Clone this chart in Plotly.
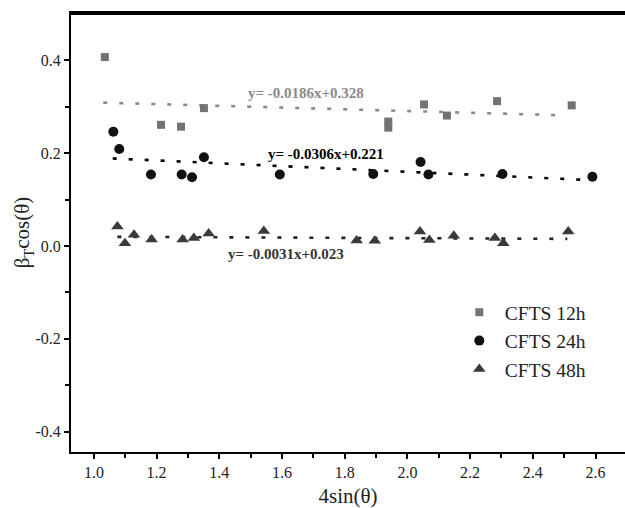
import plotly.graph_objects as go

# ---- data ----
x12 = [1.035, 1.214, 1.278, 1.351, 1.939, 1.939, 2.053, 2.126, 2.286, 2.524]
y12 = [0.407, 0.261, 0.257, 0.297, 0.268, 0.255, 0.305, 0.281, 0.312, 0.303]

x24 = [1.062, 1.081, 1.182, 1.280, 1.313, 1.351, 1.593, 1.891, 2.042, 2.067, 2.303, 2.590]
y24 = [0.246, 0.209, 0.154, 0.154, 0.148, 0.191, 0.154, 0.155, 0.181, 0.154, 0.155, 0.149]

x48 = [1.075, 1.099, 1.128, 1.184, 1.283, 1.319, 1.366, 1.542, 1.838, 1.896, 2.040, 2.070,
       2.148, 2.279, 2.306, 2.513]
y48 = [0.042, 0.006, 0.024, 0.014, 0.014, 0.017, 0.027, 0.032, 0.012, 0.011, 0.031, 0.013,
       0.022, 0.017, 0.006, 0.031]

# linear fits: slope, intercept, x-span
fit12 = (-0.0186, 0.328, 1.03, 2.50)
fit24 = (-0.0306, 0.221, 1.06, 2.58)
fit48 = (-0.0031, 0.023, 1.075, 2.51)

labels = ["CFTS 12h", "CFTS 24h", "CFTS 48h"]
eq_texts = ["y= -0.0186x+0.328", "y= -0.0306x+0.221", "y= -0.0031x+0.023"]

xticks = [1.0, 1.2, 1.4, 1.6, 1.8, 2.0, 2.2, 2.4, 2.6]
xticktext = ["1.0", "1.2", "1.4", "1.6", "1.8", "2.0", "2.2", "2.4", "2.6"]
xminor = [0.9, 1.1, 1.3, 1.5, 1.7, 1.9, 2.1, 2.3, 2.5, 2.7]
yticks = [-0.4, -0.2, 0.0, 0.2, 0.4]
yticktext = ["-0.4", "-0.2", "0.0", "0.2", "0.4"]
yminor = [-0.3, -0.1, 0.1, 0.3]

FONT = "Liberation Serif"
c12, c24, c48 = "#737373", "#111111", "#3a3a3a"
line12 = "#8a8a8a"

fig = go.Figure()

def fit_line(fit, color):
    m, b, x0, x1 = fit
    fig.add_trace(go.Scatter(
        x=[x0, x1], y=[m * x0 + b, m * x1 + b], mode="lines",
        line=dict(color=color, width=2.6, dash="4px,12px"),
        showlegend=False, hoverinfo="skip"))

fit_line(fit12, line12)
fit_line(fit24, "#000000")
fit_line(fit48, "#222222")

fig.add_trace(go.Scatter(x=x12, y=y12, mode="markers", name=labels[0],
                         marker=dict(symbol="square", size=8, color=c12)))
fig.add_trace(go.Scatter(x=x24, y=y24, mode="markers", name=labels[1],
                         marker=dict(symbol="circle", size=10, color=c24)))
fig.add_trace(go.Scatter(x=x48, y=y48, mode="markers", name=labels[2],
                         marker=dict(symbol="triangle-up", size=11, color=c48)))

ann_pos = [(1.676, 0.329, line12), (1.74, 0.199, "#000000"), (1.612, -0.017, "#333333")]
for t, (ax, ay, col) in zip(eq_texts, ann_pos):
    fig.add_annotation(x=ax, y=ay, text="<b>" + t + "</b>", showarrow=False,
                       xanchor="center", yanchor="middle",
                       font=dict(family=FONT, size=15, color=col))

# top frame line
fig.add_shape(type="line", xref="paper", yref="paper", x0=0, x1=1, y0=0.998, y1=0.998,
              line=dict(color="#000", width=2.2), layer="above")

axis_common = dict(showline=True, linecolor="#000", linewidth=2, ticks="outside",
                   ticklen=5, tickwidth=1.5, tickcolor="#000", showgrid=False,
                   zeroline=False, tickfont=dict(family=FONT, size=16, color="#222"))

fig.update_xaxes(range=[0.927, 2.694], tickmode="array", tickvals=xticks, ticktext=xticktext,
                 mirror=True,
                 minor=dict(ticks="outside", tickmode="array", tickvals=xminor, ticklen=4,
                            tickwidth=1.5, tickcolor="#000"),
                 title=dict(text="4sin(θ)", font=dict(family=FONT, size=21, color="#222"),
                            standoff=13),
                 **axis_common)
fig.update_yaxes(range=[-0.444, 0.502], tickmode="array", tickvals=yticks, ticktext=yticktext,
                 minor=dict(ticks="outside", tickmode="array", tickvals=yminor, ticklen=4,
                            tickwidth=1.5, tickcolor="#000"),
                 title=dict(text="β<sub>T</sub>cos(θ)",
                            font=dict(family=FONT, size=21, color="#222"), standoff=0),
                 **axis_common)

fig.update_layout(
    width=625, height=508,
    margin=dict(l=71, r=0, t=13, b=56),
    plot_bgcolor="white", paper_bgcolor="white",
    font=dict(family=FONT, color="#222"),
    legend=dict(x=0.691, y=0.362, xanchor="left", yanchor="top", itemwidth=41,
                font=dict(family=FONT, size=19.5, color="#222"),
                bgcolor="rgba(0,0,0,0)", tracegroupgap=0),
)

fig.write_html("out.html", config={"displayModeBar": False},
               post_script="document.body.style.margin='0';")
